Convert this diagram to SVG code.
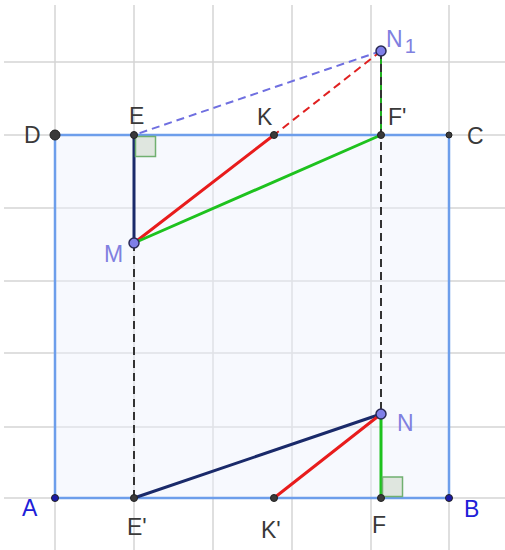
<svg xmlns="http://www.w3.org/2000/svg" width="505" height="550" viewBox="0 0 505 550">
<style>
.grid line{stroke:#d4d4d4;stroke-width:1.5}
.lbl{font-family:"Liberation Sans",Arial,sans-serif;font-size:23px;fill:#3a3a3a}
.lblp{fill:#8080e0}
.lblb{fill:#2020d8}
.pt{fill:#3a3a3a;stroke:#222;stroke-width:1}
.ptb{fill:#1a1aa8}
.ptp{fill:#7f7fe8;stroke:#2a2a55;stroke-width:1.5}
.thick{stroke-width:3;fill:none;stroke-linecap:round}
.dash{stroke-width:2;fill:none;stroke-dasharray:8 5}
.ra{fill:#dfe6df;stroke:#70b070;stroke-width:1.5}
</style>
<rect width="505" height="550" fill="#ffffff"/>
<g class="grid">
<line x1="55" y1="5" x2="55" y2="550"/>
<line x1="134" y1="5" x2="134" y2="550"/>
<line x1="213" y1="5" x2="213" y2="550"/>
<line x1="292" y1="5" x2="292" y2="550"/>
<line x1="371" y1="5" x2="371" y2="550"/>
<line x1="449" y1="5" x2="449" y2="550"/>
<line x1="4" y1="62" x2="505" y2="62"/>
<line x1="4" y1="135" x2="505" y2="135"/>
<line x1="4" y1="208" x2="505" y2="208"/>
<line x1="4" y1="281" x2="505" y2="281"/>
<line x1="4" y1="353" x2="505" y2="353"/>
<line x1="4" y1="427" x2="505" y2="427"/>
<line x1="4" y1="498" x2="505" y2="498"/>
</g>
<g id="square">
<rect x="55" y="135" width="394" height="363" fill="#eef2fc" fill-opacity="0.45" stroke="#6d9eeb" stroke-width="2.5"/>
</g>
<g id="connectors">
<line class="dash" x1="381" y1="51" x2="134" y2="135" stroke="#6f6fe0"/>
<line class="dash" x1="381" y1="51" x2="274" y2="135" stroke="#e02020" stroke-dasharray="5 4"/>
<line x1="381" y1="51" x2="381" y2="135" stroke="#20b020" stroke-width="2"/>
<line class="dash" x1="381" y1="51" x2="381" y2="414" stroke="#333" stroke-dasharray="7 6"/>
<line class="dash" x1="134" y1="243" x2="134" y2="498" stroke="#333" stroke-dasharray="7 6"/>
<line class="thick" x1="134" y1="135" x2="134" y2="243" stroke="#1a2a6a"/>
<line class="thick" x1="134" y1="243" x2="274" y2="135" stroke="#e81c1c"/>
<line class="thick" x1="134" y1="243" x2="381" y2="135" stroke="#1ec21e"/>
<line class="thick" x1="381" y1="414" x2="134" y2="498" stroke="#1a2a6a"/>
<line class="thick" x1="381" y1="414" x2="274" y2="498" stroke="#e81c1c"/>
<line class="thick" x1="381" y1="414" x2="381" y2="498" stroke="#1ec21e"/>
<rect class="ra" x="135.5" y="136.5" width="20" height="20"/>
<rect class="ra" x="382.5" y="477" width="20" height="19.5"/>
</g>
<g id="D"><circle class="pt" cx="55" cy="135" r="5"/><text class="lbl" x="24" y="143">D</text></g>
<g id="E"><circle class="pt" cx="134" cy="135" r="3.5"/><text class="lbl" x="129" y="124">E</text></g>
<g id="K"><circle class="pt" cx="274" cy="135" r="3.5"/><text class="lbl" x="257" y="125">K</text></g>
<g id="F1"><circle class="pt" cx="381" cy="135" r="3.5"/><text class="lbl" x="388" y="125">F'</text></g>
<g id="C"><circle class="pt" cx="449" cy="135" r="3"/><text class="lbl" x="467" y="144">C</text></g>
<g id="N1"><circle class="ptp" cx="381" cy="51" r="5"/><text class="lbl lblp" x="386" y="47" font-size="25">N<tspan font-size="20" dx="2" dy="6">1</tspan></text></g>
<g id="M"><circle class="ptp" cx="134" cy="243" r="5"/><text class="lbl lblp" x="104" y="262">M</text></g>
<g id="N"><circle class="ptp" cx="381" cy="414" r="5"/><text class="lbl lblp" x="397" y="431">N</text></g>
<g id="A"><circle class="pt ptb" cx="55" cy="498" r="3.5"/><text class="lbl lblb" x="22" y="516">A</text></g>
<g id="E2"><circle class="pt" cx="134" cy="498" r="3.5"/><text class="lbl" x="127" y="535">E'</text></g>
<g id="K2"><circle class="pt" cx="274" cy="498" r="3.5"/><text class="lbl" x="261" y="538">K'</text></g>
<g id="F"><circle class="pt" cx="381" cy="498" r="3.5"/><text class="lbl" x="372" y="533">F</text></g>
<g id="B"><circle class="pt ptb" cx="449" cy="498" r="3.5"/><text class="lbl lblb" x="464" y="517">B</text></g>
</svg>
